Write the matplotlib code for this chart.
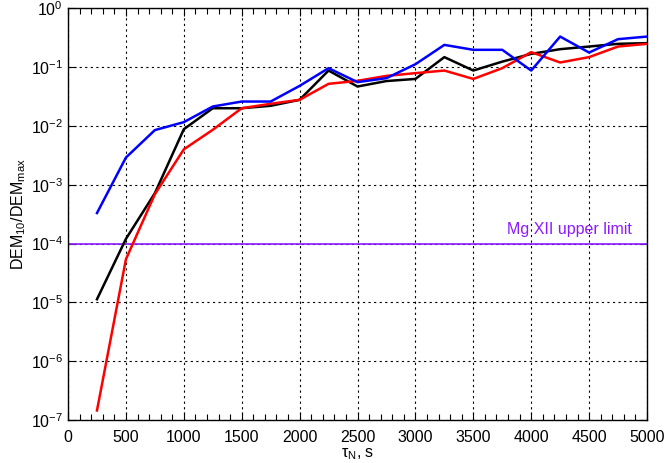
import matplotlib
matplotlib.use("Agg")
import matplotlib.pyplot as plt
from matplotlib.ticker import MultipleLocator, LogLocator, NullLocator

plt.rcParams['font.family'] = ['Liberation Sans', 'DejaVu Sans']
plt.rcParams['mathtext.default'] = 'regular'
plt.rcParams['font.size'] = 11.5

tau = [250, 500, 750, 1000, 1250, 1500, 1750, 2000, 2250, 2500,
       2750, 3000, 3250, 3500, 3750, 4000, 4250, 4500, 4750, 5000]

blue = [3.3e-4, 2.9e-3, 8.5e-3, 0.0116, 0.0214, 0.026, 0.026, 0.048, 0.096, 0.0556,
        0.065, 0.112, 0.239, 0.197, 0.197, 0.0875, 0.331, 0.177, 0.299, 0.331]
black = [1.13e-5, 1.2e-4, 7.2e-4, 8.8e-3, 0.020, 0.020, 0.022, 0.0278, 0.0875, 0.0468,
         0.058, 0.063, 0.148, 0.0875, 0.124, 0.168, 0.202, 0.224, 0.249, 0.256]
red = [1.45e-7, 5.4e-5, 6.9e-4, 4.0e-3, 8.6e-3, 0.020, 0.0238, 0.0278, 0.052, 0.0585,
       0.071, 0.079, 0.0875, 0.063, 0.096, 0.18, 0.12, 0.148, 0.224, 0.249]

limit_value = 1e-4
limit_label = "Mg XII upper limit"
purple = '#8c1aff'

fig = plt.figure(figsize=(6.67, 4.63), dpi=100)
ax = fig.add_axes([0.102, 0.093, 0.868, 0.889])

ax.plot(tau, black, color='black', lw=1.8, zorder=3)
ax.plot(tau, red, color='red', lw=1.8, zorder=4)
ax.plot(tau, blue, color='blue', lw=1.8, zorder=5)
ax.axhline(limit_value, color=purple, lw=1.2, zorder=2)
ax.annotate(limit_label, xy=(3790, limit_value), xytext=(0, 7),
            textcoords='offset points', color=purple, va='baseline', ha='left',
            fontsize=11.5)

ax.set_yscale('log')
ax.set_xlim(0, 5000)
ax.set_ylim(1e-7, 1)
ax.xaxis.set_major_locator(MultipleLocator(500))
ax.xaxis.set_minor_locator(MultipleLocator(100))
ax.yaxis.set_major_locator(LogLocator(base=10, numticks=10))
ax.yaxis.set_minor_locator(NullLocator())

ax.grid(True, which='major', color='black', linestyle=(0, (2, 3)), lw=0.8)
ax.tick_params(which='both', direction='in', top=True, right=True, labelsize=11.5)
ax.tick_params(which='major', length=6, width=0.8)
ax.tick_params(which='minor', length=4, width=0.8)
ax.tick_params(axis='x', which='major', pad=7)
ax.tick_params(axis='y', which='major', pad=3.6)
for s in ax.spines.values():
    s.set_linewidth(1.0)

ax.set_xlabel("τ$_N$, s", labelpad=1)
ax.set_ylabel("DEM$_{10}$/DEM$_{max}$", labelpad=2)

fig.savefig("out.png", dpi=100)
